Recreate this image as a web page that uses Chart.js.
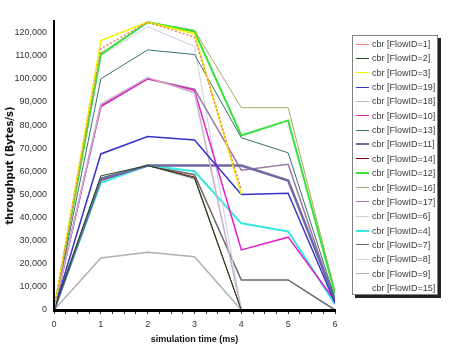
<!DOCTYPE html>
<html>
<head>
<meta charset="utf-8">
<script src="https://cdn.jsdelivr.net/npm/chart.js@4.4.1/dist/chart.umd.min.js"></script>
<style>
  body { margin: 0; background: #fff; }
  #wrap { position: relative; width: 453px; height: 353px; }
  #legend {
    position: absolute; left: 352px; top: 35px; width: 84px; height: 258px;
    border: 1px solid #808080; box-shadow: 3px 3px 0 #222; background: #fff;
    font: 9px "Liberation Sans", sans-serif; color: #3a3a3a;
  }
  .row { position: absolute; left: 0; height: 12px; display: flex; align-items: center; white-space: nowrap; }
  .swatch { margin-left: 3px; width: 13px; margin-right: 3px; }
</style>
</head>
<body>
<div id="wrap">
  <canvas id="flowChart" width="453" height="353"></canvas>
  <div id="legend"></div>
</div>
<script>
const times = [0, 1, 2, 3, 4, 5, 6];

const flow1  = [0, 113000, 124500, 118000, 52000, null, null];
const flow2  = [0, 58000, 62500, 57000, 0, 0, 0];
const flow3  = [0, 116500, 124500, 119500, 50000, null, null];
const flow19 = [0, 67500, 75000, 73500, 50000, 50500, 3000];
const flow18 = [0, 89000, 100500, 94000, 0, null, null];
const flow10 = [0, 88000, 100000, 95000, 26000, 31500, 4000];
const flow13 = [0, 100000, 112500, 110500, 74500, 68000, 5000];
const flow11 = [0, 56500, 62500, 62500, 62500, 56000, 4500];
const flow14 = [0, 56000, 62500, 57500, 0, 0, 0];
const flow12 = [0, 110500, 124500, 120500, 75500, 82000, 7000];
const flow16 = [0, 111000, 124500, 121000, 87500, 87500, 8000];
const flow17 = [0, 88500, 100000, 95500, 60500, 63000, 3500];
const flow6  = [0, 110000, 122500, 114000, 0, null, null];
const flow4  = [0, 55000, 62500, 60000, 37500, 34000, 2500];
const flow7  = [0, 57000, 62500, 58500, 13000, 13000, 0];
const flow8  = [0, 55500, 62500, 56500, 0, null, null];
const flow9  = [0, 22500, 25000, 23000, 0, null, null];
const flow15 = [0, 0, 0, 0, 0, 0, 0];

const flowIds = [1, 2, 3, 19, 18, 10, 13, 11, 14, 12, 16, 17, 6, 4, 7, 8, 9, 15];
const flowValues = [flow1, flow2, flow3, flow19, flow18, flow10, flow13, flow11, flow14,
                    flow12, flow16, flow17, flow6, flow4, flow7, flow8, flow9, flow15];

// tick positions: labelled y ticks, x ticks every quarter (labels on whole ms)
const yTicks = [0, 10000, 20000, 30000, 40000, 50000, 60000, 70000, 80000, 90000, 100000, 110000, 120000];
const xTicks = [0, 0.25, 0.5, 0.75, 1, 1.25, 1.5, 1.75, 2, 2.25, 2.5, 2.75, 3,
                3.25, 3.5, 3.75, 4, 4.25, 4.5, 4.75, 5, 5.25, 5.5, 5.75, 6];

const flowColors = ['#f08068', '#1e4d1e', '#f2f200', '#3434c8', '#c8b0c8', '#e020c8',
                    '#3a7070', '#7068a0', '#800010', '#38e038', '#a8a868', '#9a78a8',
                    '#c8d0e0', '#38e8e0', '#686868', '#d0d0d0', '#b0b0b0', '#ffffff'];
const flowWidths = [1.5, 1, 1.5, 1.5, 1.5, 1.5, 1, 2.5, 1, 2, 1, 1.5, 1, 2, 1.5, 1, 1.5, 1];

const datasets = flowIds.map((id, i) => ({
  label: `cbr [FlowID=${id}]`,
  data: times.map((t, j) => ({ x: t, y: flowValues[i][j] })),
  borderColor: flowColors[i],
  borderWidth: flowWidths[i],
  borderDash: id === 1 ? [2, 2] : [],
  pointRadius: 0,
  tension: 0,
  fill: false,
}));

const ctx = document.getElementById('flowChart');
const chart = new Chart(ctx, {
  type: 'line',
  data: { datasets },
  options: {
    responsive: false,
    animation: false,
    layout: { padding: { left: 4, top: 21, right: 118, bottom: 8 } },
    plugins: { legend: { display: false }, tooltip: { enabled: false } },
    scales: {
      x: {
        type: 'linear',
        min: 0,
        max: 6,
        afterBuildTicks: (scale) => { scale.ticks = xTicks.map((v) => ({ value: v })); },
        afterFit: (scale) => { scale.height = 35; },
        border: { color: '#000', width: 3, z: 1 },
        grid: { drawOnChartArea: false, drawTicks: true, tickLength: 4, color: '#333' },
        ticks: {
          autoSkip: false,
          maxRotation: 0,
          padding: 5,
          color: '#333',
          font: { size: 9, family: 'Liberation Sans' },
          callback: (v) => Number.isInteger(v) ? String(v) : '',
        },
        title: {
          display: true,
          text: 'simulation time (ms)',
          color: '#111',
          padding: { top: 2, bottom: 0 },
          font: { size: 9, weight: 'bold', family: 'Liberation Sans' },
        },
      },
      y: {
        min: 0,
        max: 125000,
        afterBuildTicks: (scale) => { scale.ticks = yTicks.map((v) => ({ value: v })); },
        afterFit: (scale) => { scale.width = 50; },
        border: { color: '#000', width: 2, z: 1 },
        grid: { drawOnChartArea: false, drawTicks: false },
        ticks: {
          autoSkip: false,
          padding: 7,
          color: '#333',
          font: { size: 9, family: 'Liberation Sans' },
          callback: (v) => v.toLocaleString('en-US'),
        },
        title: {
          display: true,
          text: 'throughput (Bytes/s)',
          color: '#111',
          padding: { top: 0, bottom: 0 },
          font: { size: 10, weight: 'bold', family: 'DejaVu Sans' },
        },
      },
    },
  },
});

// legend box on the right
const legend = document.getElementById('legend');
flowIds.forEach((id, i) => {
  const row = document.createElement('div');
  row.className = 'row';
  row.style.top = (2 + i * 14.35) + 'px';
  const sw = document.createElement('span');
  sw.className = 'swatch';
  sw.style.borderTop = `${Math.max(1, flowWidths[i])}px solid ${flowColors[i]}`;
  const txt = document.createElement('span');
  txt.textContent = `cbr [FlowID=${id}]`;
  row.appendChild(sw);
  row.appendChild(txt);
  legend.appendChild(row);
});
</script>
</body>
</html>
